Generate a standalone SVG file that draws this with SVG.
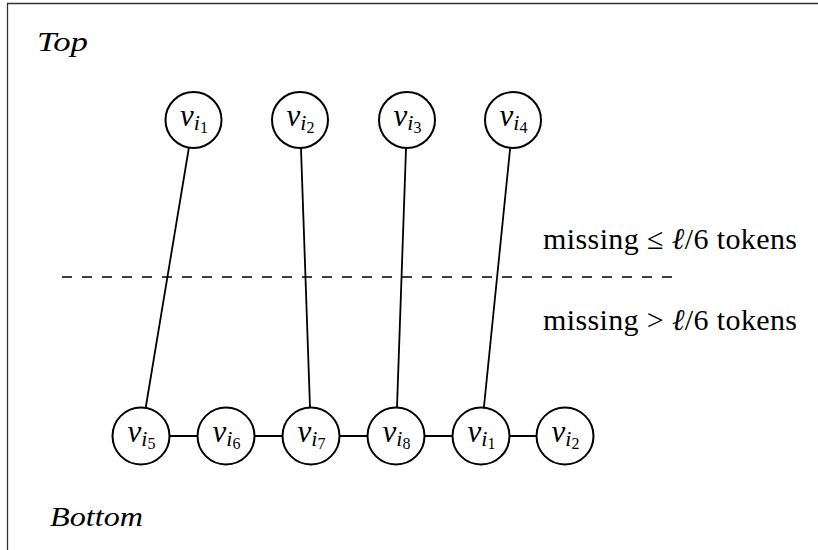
<svg xmlns="http://www.w3.org/2000/svg" width="818" height="550" viewBox="0 0 818 550">
  <style>
    .frame { stroke: #333; stroke-width: 1.3; fill: none; }
    .node circle { fill: #fff; stroke: #000; stroke-width: 2; }
    .edge { stroke: #000; stroke-width: 1.8; fill: none; }
    .cut { stroke: #000; stroke-width: 1.4; stroke-dasharray: 10 10; fill: none; }
    .lbl { font-family: "Liberation Serif", "DejaVu Serif", serif; fill: #000; text-anchor: middle; }
    .v { font-size: 31px; font-style: italic; }
    .i { font-size: 22px; font-style: italic; }
    .d { font-size: 16px; }
    .side { font-family: "Liberation Serif", "DejaVu Serif", serif; font-size: 30px; fill: #000; }
    .corner { font-family: "Liberation Serif", "DejaVu Serif", serif; font-size: 28px; font-style: italic; fill: #000; }
  </style>

  <!-- page frame (top and left edges) -->
  <path class="frame" d="M7.5,550 V3.5 H818"/>

  <!-- region labels -->
  <text class="corner" x="37" y="51" textLength="51" lengthAdjust="spacingAndGlyphs">Top</text>
  <text class="corner" x="50" y="526" textLength="93" lengthAdjust="spacingAndGlyphs">Bottom</text>

  <!-- threshold separating the two regions -->
  <line class="cut" x1="62" y1="277" x2="672" y2="277"/>
  <text class="side" x="543" y="249" textLength="254" lengthAdjust="spacing">missing ≤ <tspan font-style="italic">ℓ</tspan>/6 tokens</text>
  <text class="side" x="543" y="330" textLength="254" lengthAdjust="spacing">missing &gt; <tspan font-style="italic">ℓ</tspan>/6 tokens</text>

  <!-- connectors -->
  <g id="edges">
    <line class="edge" x1="193.5" y1="120" x2="141" y2="436"/>
    <line class="edge" x1="300" y1="120" x2="311" y2="436"/>
    <line class="edge" x1="407" y1="120" x2="396" y2="436"/>
    <line class="edge" x1="513" y1="120" x2="481" y2="436"/>
    <line class="edge" x1="141" y1="436" x2="565" y2="436"/>
  </g>

  <!-- upper row -->
  <g id="top-vi1" class="node">
    <circle cx="193.5" cy="120" r="28"/>
    <text class="lbl" x="194" y="126"><tspan class="v">v</tspan><tspan class="i" dy="4">i</tspan><tspan class="d" dy="3">1</tspan></text>
  </g>
  <g id="top-vi2" class="node">
    <circle cx="300" cy="120" r="28"/>
    <text class="lbl" x="300.5" y="126"><tspan class="v">v</tspan><tspan class="i" dy="4">i</tspan><tspan class="d" dy="3">2</tspan></text>
  </g>
  <g id="top-vi3" class="node">
    <circle cx="407" cy="120" r="28"/>
    <text class="lbl" x="407.5" y="126"><tspan class="v">v</tspan><tspan class="i" dy="4">i</tspan><tspan class="d" dy="3">3</tspan></text>
  </g>
  <g id="top-vi4" class="node">
    <circle cx="513" cy="120" r="28"/>
    <text class="lbl" x="513.5" y="126"><tspan class="v">v</tspan><tspan class="i" dy="4">i</tspan><tspan class="d" dy="3">4</tspan></text>
  </g>

  <!-- lower row -->
  <g id="bot-vi5" class="node">
    <circle cx="141" cy="436" r="28.5"/>
    <text class="lbl" x="141.5" y="442"><tspan class="v">v</tspan><tspan class="i" dy="4">i</tspan><tspan class="d" dy="3">5</tspan></text>
  </g>
  <g id="bot-vi6" class="node">
    <circle cx="226" cy="436" r="28.5"/>
    <text class="lbl" x="226.5" y="442"><tspan class="v">v</tspan><tspan class="i" dy="4">i</tspan><tspan class="d" dy="3">6</tspan></text>
  </g>
  <g id="bot-vi7" class="node">
    <circle cx="311" cy="436" r="28.5"/>
    <text class="lbl" x="311.5" y="442"><tspan class="v">v</tspan><tspan class="i" dy="4">i</tspan><tspan class="d" dy="3">7</tspan></text>
  </g>
  <g id="bot-vi8" class="node">
    <circle cx="396" cy="436" r="28.5"/>
    <text class="lbl" x="396.5" y="442"><tspan class="v">v</tspan><tspan class="i" dy="4">i</tspan><tspan class="d" dy="3">8</tspan></text>
  </g>
  <g id="bot-vi1" class="node">
    <circle cx="481" cy="436" r="28.5"/>
    <text class="lbl" x="481.5" y="442"><tspan class="v">v</tspan><tspan class="i" dy="4">i</tspan><tspan class="d" dy="3">1</tspan></text>
  </g>
  <g id="bot-vi2" class="node">
    <circle cx="565" cy="436" r="28.5"/>
    <text class="lbl" x="565.5" y="442"><tspan class="v">v</tspan><tspan class="i" dy="4">i</tspan><tspan class="d" dy="3">2</tspan></text>
  </g>
</svg>
